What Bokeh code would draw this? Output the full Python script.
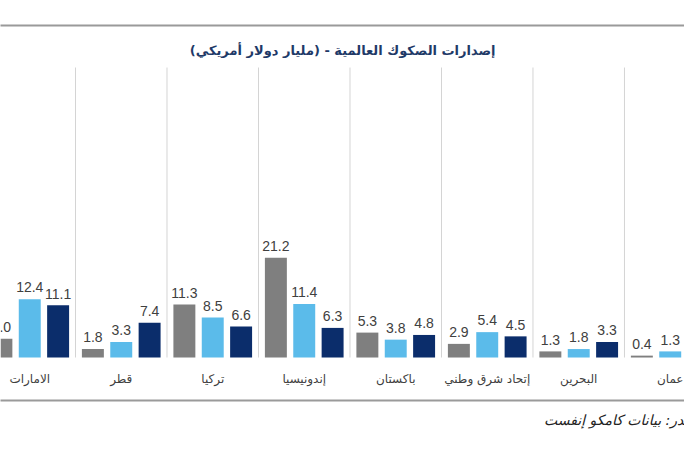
from bokeh.plotting import figure
from bokeh.models import ColumnDataSource, Range1d
from bokeh.core.properties import value
from bokeh.embed import file_html
from bokeh.resources import INLINE

# ---- data ----
categories = ["الامارات", "قطر", "تركيا", "إندونيسيا", "باكستان", "إتحاد شرق وطني", "البحرين", "عمان"]
series_gray = [4.0, 1.8, 11.3, 21.2, 5.3, 2.9, 1.3, 0.4]
series_light = [12.4, 3.3, 8.5, 11.4, 3.8, 5.4, 1.8, 1.3]
series_dark = [11.1, 7.4, 6.6, 6.3, 4.8, 4.5, 3.3, 2.3]
title_text = "إصدارات الصكوك العالمية - (مليار دولار أمريكي)"
source_text = "المصدر: بيانات كامكو إنفست"

colors = ["#7f7f7f", "#5bbbea", "#0b2d6b"]
offsets = [-0.31, 0.0, 0.31]
bar_w = 0.24

W, H = 684, 434
p = figure(width=W, height=H, output_backend="svg", toolbar_location=None,
           x_range=Range1d(-0.3197, 7.156), y_range=Range1d(-16.38, 75.96),
           min_border=0, outline_line_color=None)
p.axis.visible = False
p.grid.visible = False
p.background_fill_color = "white"
p.border_fill_color = "white"

xs = list(range(len(categories)))
fmt = lambda v: f"{v:.1f}"
for series, col, off in zip([series_gray, series_light, series_dark], colors, offsets):
    src = ColumnDataSource(dict(x=[i + off for i in xs], top=series,
                                ly=[v + 2.5 for v in series],
                                lbl=[fmt(v) for v in series]))
    p.vbar(x="x", top="top", bottom=0, width=bar_w, source=src,
           fill_color=col, line_color=None)
    p.text(x="x", y="ly", text="lbl", source=src, text_align="center",
           text_baseline="alphabetic", text_font=value("Liberation Sans"),
           text_font_size="14px", text_color="#404040")

# group separators
seps = [i + 0.5 for i in range(len(categories) - 1)]
p.segment(x0=seps, x1=seps, y0=[0] * len(seps), y1=[61.7] * len(seps),
          line_color="#d4d4d4", line_width=1)

# top and bottom rules
p.segment(x0=[-1, -1], x1=[9, 9], y0=[70.64, -9.15], y1=[70.64, -9.15],
          line_color="#9a9a9a", line_width=2)

# category labels
p.text(x=xs, y=[-4.5] * len(xs), text=categories, text_align="center",
       text_baseline="middle", text_font=value("DejaVu Sans"),
       text_font_size="12px", text_color="#404040")

# title
p.text(x=[3.42], y=[65.3], text=[title_text], text_align="center",
       text_baseline="middle", text_font=value("DejaVu Sans"),
       text_font_style="bold", text_font_size="13px", text_color="#1f3a68")

# source
p.text(x=[5.62], y=[-13.4], text=[source_text], text_align="left",
       text_baseline="middle", text_font=value("DejaVu Sans"),
       text_font_style="italic", text_font_size="14px", text_color="#222222")

open("out.html", "w").write(file_html(p, INLINE))
